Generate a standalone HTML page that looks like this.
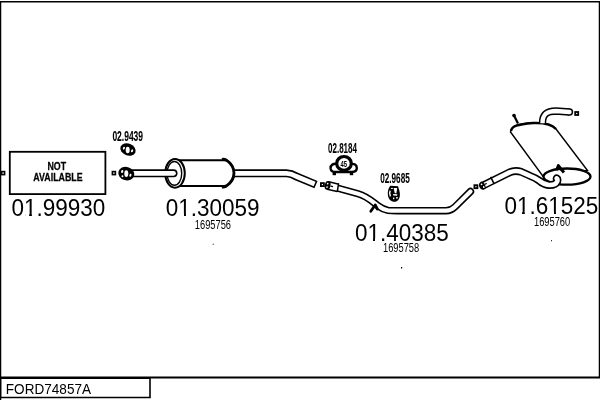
<!DOCTYPE html>
<html><head><meta charset="utf-8">
<style>
html,body{margin:0;padding:0;background:#fff;}
body{width:600px;height:400px;overflow:hidden;}
svg{display:block;will-change:transform;}
text{font-family:"Liberation Sans",sans-serif;fill:#000;}
</style></head>
<body>
<svg width="600" height="400" viewBox="0 0 600 400">
<g fill="none" stroke="#000" stroke-linecap="butt">
  <!-- frame -->
  <path d="M0.5,400 V1.75 H599.5 V377.5" stroke-width="1.5"/>
  <path d="M0,377.5 H600" stroke-width="2"/>
  <path d="M0.5,377.5 V397.5 H150 V377.5" stroke-width="1.6"/>
  <path d="M0,378.5 H150" stroke-width="1"/>
</g>

<!-- NOT AVAILABLE box -->
<rect x="9.8" y="151.8" width="95.6" height="42.3" fill="none" stroke="#000" stroke-width="1.8"/>
<rect x="1.6" y="171.6" width="3" height="3" fill="none" stroke="#000" stroke-width="1.6"/>
<rect x="112.4" y="171.6" width="3" height="3" fill="none" stroke="#000" stroke-width="1.6"/>
<text transform="translate(56.8,169.8) scale(0.86,1)" font-size="10.3" font-weight="bold" text-anchor="middle" stroke="#000" stroke-width="0.25">NOT</text>
<text transform="translate(58,180.7) scale(0.86,1)" font-size="10.3" font-weight="bold" text-anchor="middle" stroke="#000" stroke-width="0.25">AVAILABLE</text>

<!-- gasket 02.9439 -->
<g transform="translate(128,149.5) rotate(22)">
  <ellipse cx="0" cy="0" rx="7.9" ry="6" fill="#000"/>
  <ellipse cx="-4.3" cy="0.3" rx="1" ry="1.5" fill="#fff"/>
  <ellipse cx="4.3" cy="-0.3" rx="1" ry="1.5" fill="#fff"/>
</g>
<ellipse cx="127.7" cy="150" rx="2" ry="3.3" fill="#fff"/>

<!-- pipe B (drawn under muffler 1) -->
<path d="M228,173.3 H286.5 Q291.5,173.4 296.5,176.5 L316,184.6" stroke="#000" stroke-width="8" stroke-linecap="butt" stroke-linejoin="round" fill="none"/>
<path d="M228,173.3 H286.5 Q291.5,173.4 296.5,176.5 L314.6,184" stroke="#fff" stroke-width="4.8" stroke-linecap="butt" stroke-linejoin="round" fill="none"/>
<rect x="320.9" y="183.1" width="3" height="3" fill="none" stroke="#000" stroke-width="1.8"/>

<!-- muffler 1 -->
<g fill="#fff" stroke="#000">
  <path d="M175,160.3 H224 A10,12.85 0 0 1 224,186 H175" stroke-width="2"/>
  <path d="M222,159.4 Q225,158.6 227,160.5 Q234,166 234,173 Q234,180 227,185.5 Q225,187.5 222,186.8" stroke-width="2.8" fill="none"/>
  <ellipse cx="175" cy="173.3" rx="9.8" ry="14.4" stroke-width="2"/>
  <ellipse cx="174.4" cy="173.4" rx="7.3" ry="11.9" stroke-width="1.4"/>
</g>

<!-- front pipe -->
<path d="M126,173.3 H173.5" stroke="#000" stroke-width="8" stroke-linecap="round" fill="none"/>
<path d="M126,173.3 H173.5" stroke="#fff" stroke-width="4.8" stroke-linecap="round" fill="none"/>
<!-- flange front -->
<g transform="translate(126.3,173.6) rotate(15)">
  <ellipse rx="8.1" ry="6.7" fill="#000"/>
  <ellipse cx="-4.5" cy="-1" rx="1.1" ry="1.6" fill="#fff"/>
  <ellipse cx="-3" cy="3.5" rx="1" ry="1" fill="#fff"/>
  <ellipse cx="4.4" cy="0.5" rx="1" ry="1.6" fill="#fff"/>
</g>
<ellipse cx="126.3" cy="173.6" rx="2" ry="3.4" fill="#fff"/>

<!-- pipe C -->
<path d="M338,188.2 L358,193.8 C367,196.3 372,201.3 378,205.8 Q383,209.6 388,210.4 Q391,210.7 397,210.7 L446,210.7 Q451,210.7 455,206.8 L470.5,191.5" stroke="#000" stroke-width="7.4" stroke-linecap="round" stroke-linejoin="round" fill="none"/>
<path d="M338,188.2 L358,193.8 C367,196.3 372,201.3 378,205.8 Q383,209.6 388,210.4 Q391,210.7 397,210.7 L446,210.7 Q451,210.7 455,206.8 L470.5,191.5" stroke="#fff" stroke-width="4.2" stroke-linecap="round" stroke-linejoin="round" fill="none"/>
<path d="M328,185.5 L338,187.8" stroke="#000" stroke-width="9" fill="none"/>
<path d="M328,185.5 L338,187.8" stroke="#fff" stroke-width="6" fill="none"/>
<path d="M338.6,183.3 L337.2,192" stroke="#000" stroke-width="1.5" fill="none"/>
<g transform="translate(327.6,185.4) rotate(12)">
  <ellipse rx="2.9" ry="4.5" fill="#000"/>
  <ellipse cx="-0.3" cy="-1.8" rx="0.8" ry="0.9" fill="#fff"/>
  <ellipse cx="-0.2" cy="1.8" rx="0.8" ry="0.9" fill="#fff"/>
</g>
<path d="M330.5,186.2 L333,186.6" stroke="#000" stroke-width="1.2"/>
<path d="M370.8,211.3 L375.2,205 L377.3,209" stroke="#000" stroke-width="2.8" stroke-linecap="round" stroke-linejoin="round" fill="none"/>
<rect x="474.4" y="185.2" width="3" height="3" fill="none" stroke="#000" stroke-width="1.8"/>

<!-- clamp 02.8184 -->
<g stroke="#000" fill="#fff">
  <path d="M337,164 C333.5,163.2 330.3,165 330.6,168.4 C330.9,170.8 332.8,172 335,172 H352 C354.8,172 356.8,170.6 356.8,168 C356.8,165 354,163.3 351,164 Z" stroke-width="2.4"/>
  <rect x="332.6" y="172" width="3.4" height="3.2" fill="#000" stroke="none"/>
  <rect x="349.8" y="172" width="3.4" height="3.2" fill="#000" stroke="none"/>
  <ellipse cx="344" cy="163.4" rx="7.3" ry="6.9" stroke-width="3.2"/>
</g>
<text transform="translate(343.8,166.8) scale(0.62,1)" font-size="9.5" font-weight="bold" text-anchor="middle">45</text>

<!-- clamp 02.9685 -->
<path d="M390.3,185.7 L398,186.2 C399,189 400,192 399.9,195 C399.7,199 397.5,201.8 394.5,201.8 C391,201.8 388.3,199 387.9,195 C387.5,191 388.3,188.5 390.3,185.7 Z" fill="#000"/>
<path d="M393.6,187.9 H397.2 L396.4,193.2 H394.8 Z" fill="#fff"/>
<path d="M393,194 L397.4,194.3 L397,195.8 L393.4,195.6 Z" fill="#fff"/>
<path d="M390.2,190.6 Q388.8,193.3 390.4,196.3" stroke="#fff" stroke-width="1.4" fill="none"/>
<rect x="390.9" y="187.9" width="2" height="1" fill="#fff"/>
<rect x="393" y="197.6" width="1.3" height="1.6" fill="#fff"/>
<rect x="396.2" y="197" width="1.5" height="1.6" fill="#fff"/>

<!-- rear muffler -->
<g stroke="#000" fill="#fff">
  <path d="M510.5,132 C511,126 516,124 533,122.8 C545,122.5 552,124 556,129 L587.5,170.5 L543.5,177 Z" stroke-width="1.4"/>
  <path d="M511,131 C512,126 517,124.5 533,123 C545,122.5 552,124 556,129" stroke-width="2.4" fill="none"/>
  <ellipse cx="567" cy="176.6" rx="23.5" ry="8.1" stroke-width="2.3"/>
</g>

<!-- rear pipe D -->
<path d="M483,185.6 L509.5,172.4 Q515,169.9 521,171.8 L530,175.8 Q535,177.6 539,180.5 Q543.5,184.5 549,185 Q555.5,185.2 557.2,181.5 Q558,179 556.7,178.3" stroke="#000" stroke-width="7.8" stroke-linecap="round" stroke-linejoin="round" fill="none"/>
<path d="M483,185.6 L509.5,172.4 Q515,169.9 521,171.8 L530,175.8 Q535,177.6 539,180.5 Q543.5,184.5 549,185 Q555.5,185.2 557.2,181.5 Q558,179 556.7,178.3" stroke="#fff" stroke-width="4.6" stroke-linecap="round" stroke-linejoin="round" fill="none"/>
<path d="M490.6,176.8 L493.9,183.4" stroke="#000" stroke-width="1.5" fill="none"/>
<g transform="translate(482.6,185.6) rotate(-28)">
  <ellipse rx="2.5" ry="4.2" fill="#000"/>
  <ellipse cx="-0.3" cy="-1.6" rx="0.9" ry="0.9" fill="#fff"/>
  <ellipse cx="0.4" cy="1.8" rx="0.8" ry="1" fill="#fff"/>
</g>
<path d="M484.5,184.3 L486.8,183.5" stroke="#000" stroke-width="1.3"/>
<!-- hanger rod & bracket -->
<path d="M514,115.5 L518,123.5" stroke="#000" stroke-width="2.2" fill="none"/>
<circle cx="514" cy="115.5" r="1.8" fill="#000"/>
<path d="M556.6,170.2 L558.4,165.6 L562,170.3 L564,172.6" stroke="#000" stroke-width="3" stroke-linejoin="round" fill="none"/>

<!-- tailpipe -->
<path d="M542.5,123 C542.5,114 547,111 556,111 L569.5,112" stroke="#000" stroke-width="7.4" stroke-linecap="butt" fill="none"/>
<circle cx="569.5" cy="112" r="3.7" fill="#000"/>
<path d="M542.5,123.2 C542.5,114 547,111 556,111 L569.5,112" stroke="#fff" stroke-width="4.4" stroke-linecap="butt" fill="none"/>
<circle cx="569.5" cy="112" r="2.2" fill="#fff"/>
<rect x="575.2" y="112" width="3" height="3" fill="none" stroke="#000" stroke-width="1.8"/>

<!-- labels -->
<g font-size="24.2">
  <text transform="translate(11.5,216) scale(0.93,1)">01.99930</text>
  <text transform="translate(165.8,216.2) scale(0.93,1)">01.30059</text>
  <text transform="translate(355,240.5) scale(0.93,1)">01.40385</text>
  <text transform="translate(504.5,214) scale(0.93,1)">01.61525</text>
</g>
<g font-size="13.5">
  <text transform="translate(194.8,229) scale(0.69,1)">1695756</text>
  <text transform="translate(383,252.3) scale(0.69,1)">1695758</text>
  <text transform="translate(534,225.6) scale(0.69,1)">1695760</text>
</g>
<g font-size="15" font-weight="bold" stroke="#000" stroke-width="0.1">
  <text transform="translate(112.4,141.3) scale(0.566,1)">02.9439</text>
  <text transform="translate(328,153.2) scale(0.535,1)">02.8184</text>
  <text transform="translate(380.2,183.2) scale(0.545,1)">02.9685</text>
</g>
<g fill="#fff">
  <rect x="25.5" y="213.5" width="3.6" height="2.6"/><rect x="31.9" y="213.5" width="4.2" height="2.6"/>
  <rect x="179.5" y="213.5" width="4.5" height="2.6"/><rect x="186" y="213.5" width="4" height="2.6"/>
  <rect x="368.5" y="238.5" width="4.5" height="2.6"/><rect x="375" y="238.5" width="4" height="2.6"/>
  <rect x="517.5" y="211.5" width="4.5" height="2.6"/><rect x="524.8" y="211.5" width="4.2" height="2.6"/>
  <rect x="549.5" y="211.5" width="4.5" height="2.6"/><rect x="556" y="211.5" width="4" height="2.6"/>
</g>
<rect x="212.7" y="243.7" width="1" height="1" fill="#000"/>
<rect x="401" y="267" width="1.2" height="1.5" fill="#000"/>
<rect x="551" y="240.2" width="1" height="1" fill="#000"/>
<text transform="translate(5.8,393.6) scale(0.97,1)" font-size="14">FORD74857A</text>
</svg>
</body></html>
